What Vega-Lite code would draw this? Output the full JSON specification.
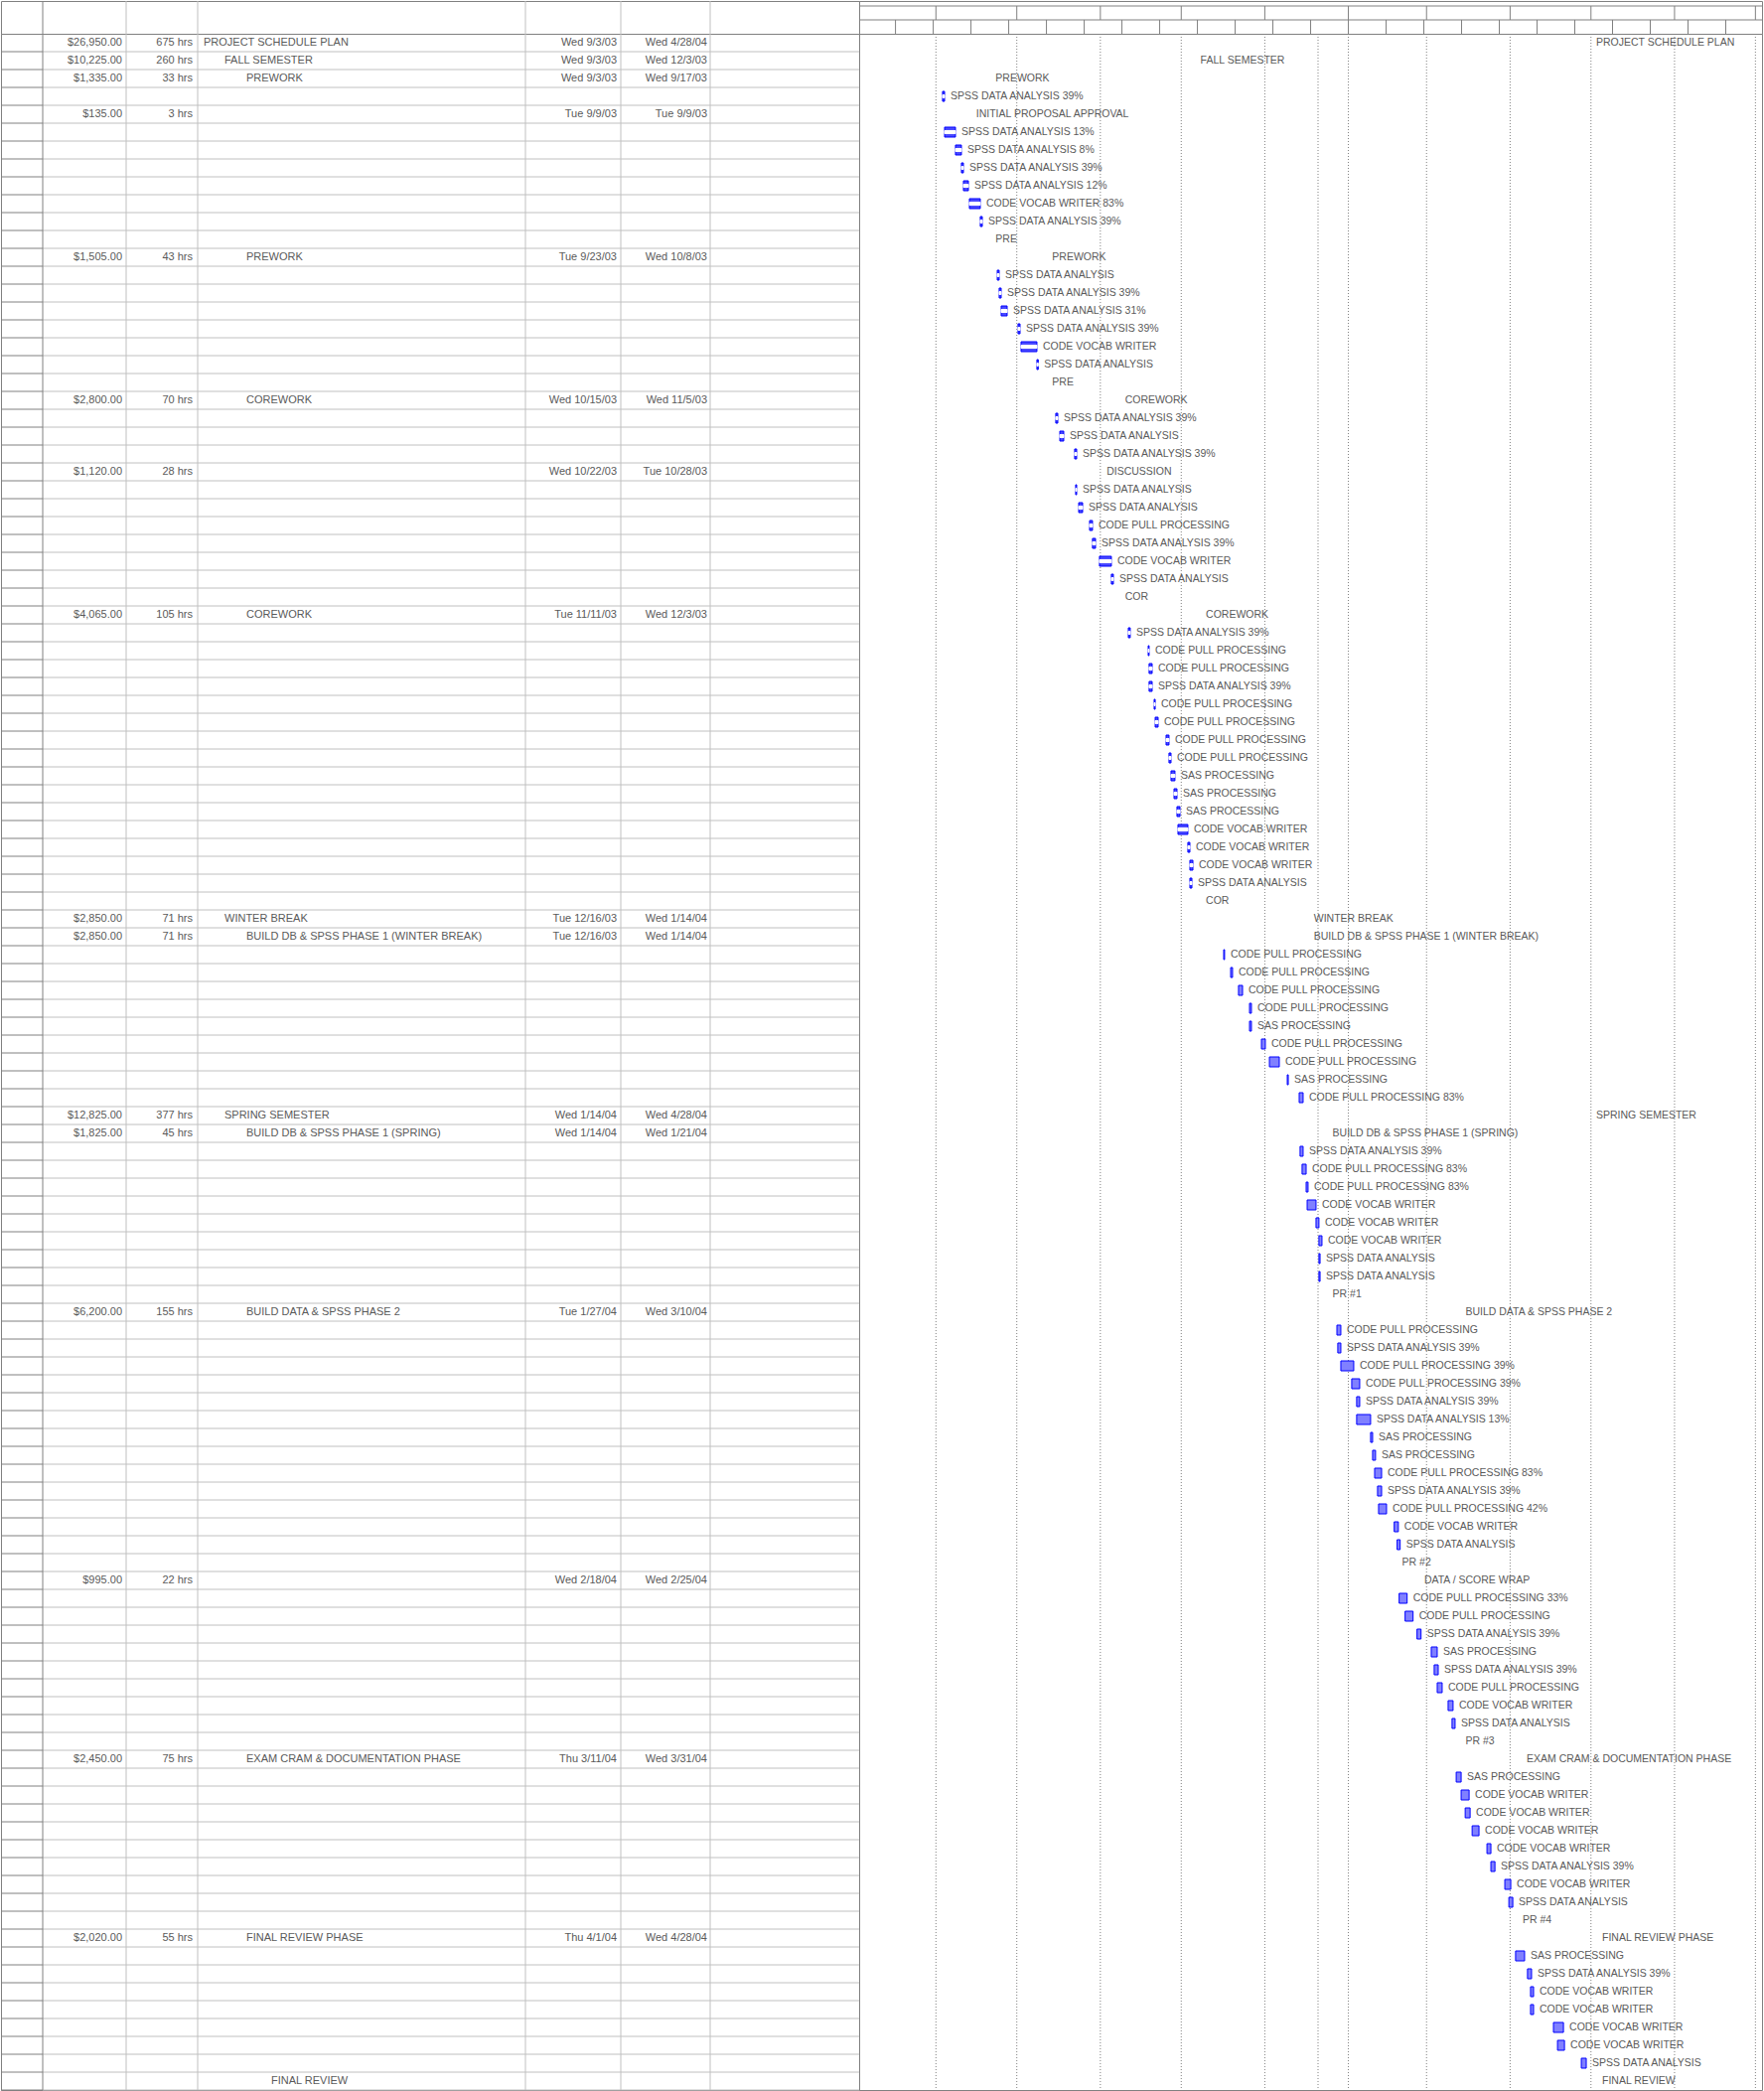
{
  "$schema": "https://vega.github.io/schema/vega-lite/v6.json",
  "padding": {"left": 0, "top": 0, "right": 2, "bottom": 0},
  "background": "white",
  "config": {
    "view": {"stroke": "#808080", "strokeWidth": 1},
    "text": {"font": "Liberation Sans", "fontSize": 11, "fill": "#5a5a5a"}
  },
  "datasets": {
    "months": [
      {"m": "2003-09-01T00:00"}, {"m": "2003-10-01T00:00"}, {"m": "2003-11-01T00:00"},
      {"m": "2003-12-01T00:00"}, {"m": "2004-01-01T00:00"}, {"m": "2004-02-01T00:00"}, {"m": "2004-03-01T00:00"},
      {"m": "2004-04-01T00:00"}, {"m": "2004-05-01T00:00"}, {"m": "2004-06-01T00:00"}, {"m": "2004-07-01T00:00"}
    ],
    "weeks": [
      {"w": "2003-08-17T00:00"}, {"w": "2003-08-31T00:00"}, {"w": "2003-09-14T00:00"},
      {"w": "2003-09-28T00:00"}, {"w": "2003-10-12T00:00"}, {"w": "2003-10-26T00:00"}, {"w": "2003-11-09T00:00"},
      {"w": "2003-11-23T00:00"}, {"w": "2003-12-07T00:00"}, {"w": "2003-12-21T00:00"}, {"w": "2004-01-04T00:00"},
      {"w": "2004-01-18T00:00"}, {"w": "2004-02-01T00:00"}, {"w": "2004-02-15T00:00"}, {"w": "2004-02-29T00:00"},
      {"w": "2004-03-14T00:00"}, {"w": "2004-03-28T00:00"}, {"w": "2004-04-11T00:00"}, {"w": "2004-04-25T00:00"},
      {"w": "2004-05-09T00:00"}, {"w": "2004-05-23T00:00"}, {"w": "2004-06-06T00:00"}, {"w": "2004-06-20T00:00"}
    ],
    "rows": [
      {"r":1,"lv":0,"nm":"PROJECT SCHEDULE PLAN","c":"$26,950.00","w":"675 hrs","s":"Wed 9/3/03","f":"Wed 4/28/04","k":"s","b":"2004-04-28T12:00","t":"PROJECT SCHEDULE PLAN"},
      {"r":2,"lv":1,"nm":"FALL SEMESTER","c":"$10,225.00","w":"260 hrs","s":"Wed 9/3/03","f":"Wed 12/3/03","k":"s","b":"2003-12-03T17:00","t":"FALL SEMESTER"},
      {"r":3,"lv":2,"nm":"PREWORK","c":"$1,335.00","w":"33 hrs","s":"Wed 9/3/03","f":"Wed 9/17/03","k":"s","b":"2003-09-18T17:00","t":"PREWORK"},
      {"r":4,"k":"t","a":"2003-09-03T11:00","b":"2003-09-04T05:00","t":"SPSS DATA ANALYSIS 39%"},
      {"r":5,"lv":3,"nm":"","c":"$135.00","w":"3 hrs","s":"Tue 9/9/03","f":"Tue 9/9/03","k":"s","b":"2003-09-11T12:00","t":"INITIAL PROPOSAL APPROVAL"},
      {"r":6,"k":"t","a":"2003-09-04T05:00","b":"2003-09-08T06:00","t":"SPSS DATA ANALYSIS 13%"},
      {"r":7,"k":"t","a":"2003-09-08T06:00","b":"2003-09-10T11:00","t":"SPSS DATA ANALYSIS 8%"},
      {"r":8,"k":"t","a":"2003-09-10T11:00","b":"2003-09-11T05:00","t":"SPSS DATA ANALYSIS 39%"},
      {"r":9,"k":"t","a":"2003-09-11T05:00","b":"2003-09-13T01:00","t":"SPSS DATA ANALYSIS 12%"},
      {"r":10,"k":"t","a":"2003-09-13T10:00","b":"2003-09-17T11:00","t":"CODE VOCAB WRITER 83%"},
      {"r":11,"k":"t","a":"2003-09-17T11:00","b":"2003-09-18T05:00","t":"SPSS DATA ANALYSIS 39%"},
      {"r":12,"k":"m","b":"2003-09-18T17:00","t":"PRE"},
      {"r":13,"lv":2,"nm":"PREWORK","c":"$1,505.00","w":"43 hrs","s":"Tue 9/23/03","f":"Wed 10/8/03","k":"s","b":"2003-10-09T17:00","t":"PREWORK"},
      {"r":14,"k":"t","a":"2003-09-23T18:00","b":"2003-09-24T11:00","t":"SPSS DATA ANALYSIS"},
      {"r":15,"k":"t","a":"2003-09-24T11:00","b":"2003-09-25T05:00","t":"SPSS DATA ANALYSIS 39%"},
      {"r":16,"k":"t","a":"2003-09-25T05:00","b":"2003-09-27T10:00","t":"SPSS DATA ANALYSIS 31%"},
      {"r":17,"k":"t","a":"2003-10-01T11:00","b":"2003-10-02T05:00","t":"SPSS DATA ANALYSIS 39%"},
      {"r":18,"k":"t","a":"2003-10-02T14:00","b":"2003-10-08T11:00","t":"CODE VOCAB WRITER"},
      {"r":19,"k":"t","a":"2003-10-08T11:00","b":"2003-10-08T23:00","t":"SPSS DATA ANALYSIS"},
      {"r":20,"k":"m","b":"2003-10-09T17:00","t":"PRE"},
      {"r":21,"lv":2,"nm":"COREWORK","c":"$2,800.00","w":"70 hrs","s":"Wed 10/15/03","f":"Wed 11/5/03","k":"s","b":"2003-11-05T17:00","t":"COREWORK"},
      {"r":22,"k":"t","a":"2003-10-15T11:00","b":"2003-10-16T05:00","t":"SPSS DATA ANALYSIS 39%"},
      {"r":23,"k":"t","a":"2003-10-16T23:00","b":"2003-10-18T10:00","t":"SPSS DATA ANALYSIS"},
      {"r":24,"k":"t","a":"2003-10-22T11:00","b":"2003-10-23T05:00","t":"SPSS DATA ANALYSIS 39%"},
      {"r":25,"lv":3,"nm":"","c":"$1,120.00","w":"28 hrs","s":"Wed 10/22/03","f":"Tue 10/28/03","k":"s","b":"2003-10-29T22:00","t":"DISCUSSION"},
      {"r":26,"k":"t","a":"2003-10-22T20:00","b":"2003-10-23T05:00","t":"SPSS DATA ANALYSIS"},
      {"r":27,"k":"t","a":"2003-10-23T23:00","b":"2003-10-25T10:00","t":"SPSS DATA ANALYSIS"},
      {"r":28,"k":"t","a":"2003-10-28T00:00","b":"2003-10-29T02:00","t":"CODE PULL PROCESSING"},
      {"r":29,"k":"t","a":"2003-10-29T02:00","b":"2003-10-30T05:00","t":"SPSS DATA ANALYSIS 39%"},
      {"r":30,"k":"t","a":"2003-10-31T16:00","b":"2003-11-05T02:00","t":"CODE VOCAB WRITER"},
      {"r":31,"k":"t","a":"2003-11-05T02:00","b":"2003-11-05T20:00","t":"SPSS DATA ANALYSIS"},
      {"r":32,"k":"m","b":"2003-11-05T17:00","t":"COR"},
      {"r":33,"lv":2,"nm":"COREWORK","c":"$4,065.00","w":"105 hrs","s":"Tue 11/11/03","f":"Wed 12/3/03","k":"s","b":"2003-12-05T17:00","t":"COREWORK"},
      {"r":34,"k":"t","a":"2003-11-11T09:00","b":"2003-11-12T02:00","t":"SPSS DATA ANALYSIS 39%"},
      {"r":35,"k":"t","a":"2003-11-18T18:00","b":"2003-11-19T02:00","t":"CODE PULL PROCESSING"},
      {"r":36,"k":"t","a":"2003-11-19T02:00","b":"2003-11-20T05:00","t":"CODE PULL PROCESSING"},
      {"r":37,"k":"t","a":"2003-11-19T02:00","b":"2003-11-20T05:00","t":"SPSS DATA ANALYSIS 39%"},
      {"r":38,"k":"t","a":"2003-11-20T23:00","b":"2003-11-21T08:00","t":"CODE PULL PROCESSING"},
      {"r":39,"k":"t","a":"2003-11-21T08:00","b":"2003-11-22T10:00","t":"CODE PULL PROCESSING"},
      {"r":40,"k":"t","a":"2003-11-25T09:00","b":"2003-11-26T11:00","t":"CODE PULL PROCESSING"},
      {"r":41,"k":"t","a":"2003-11-26T11:00","b":"2003-11-27T05:00","t":"CODE PULL PROCESSING"},
      {"r":42,"k":"t","a":"2003-11-27T05:00","b":"2003-11-28T16:00","t":"SAS PROCESSING"},
      {"r":43,"k":"t","a":"2003-11-28T08:00","b":"2003-11-29T10:00","t":"SAS PROCESSING"},
      {"r":44,"k":"t","a":"2003-11-29T10:00","b":"2003-11-30T13:00","t":"SAS PROCESSING"},
      {"r":45,"k":"t","a":"2003-11-29T19:00","b":"2003-12-03T11:00","t":"CODE VOCAB WRITER"},
      {"r":46,"k":"t","a":"2003-12-03T11:00","b":"2003-12-04T05:00","t":"CODE VOCAB WRITER"},
      {"r":47,"k":"t","a":"2003-12-04T05:00","b":"2003-12-05T08:00","t":"CODE VOCAB WRITER"},
      {"r":48,"k":"t","a":"2003-12-04T05:00","b":"2003-12-04T23:00","t":"SPSS DATA ANALYSIS"},
      {"r":49,"k":"m","b":"2003-12-05T17:00","t":"COR"},
      {"r":50,"lv":1,"nm":"WINTER BREAK","c":"$2,850.00","w":"71 hrs","s":"Tue 12/16/03","f":"Wed 1/14/04","k":"s","b":"2004-01-14T18:00","t":"WINTER BREAK"},
      {"r":51,"lv":2,"nm":"BUILD DB & SPSS PHASE 1 (WINTER BREAK)","c":"$2,850.00","w":"71 hrs","s":"Tue 12/16/03","f":"Wed 1/14/04","k":"s","b":"2004-01-14T18:00","t":"BUILD DB & SPSS PHASE 1 (WINTER BREAK)"},
      {"r":52,"k":"t","a":"2003-12-16T18:00","b":"2003-12-17T02:00","t":"CODE PULL PROCESSING"},
      {"r":53,"k":"t","a":"2003-12-19T08:00","b":"2003-12-20T01:00","t":"CODE PULL PROCESSING"},
      {"r":54,"k":"t","a":"2003-12-22T06:00","b":"2003-12-23T18:00","t":"CODE PULL PROCESSING"},
      {"r":55,"k":"t","a":"2003-12-26T08:00","b":"2003-12-27T01:00","t":"CODE PULL PROCESSING"},
      {"r":56,"k":"t","a":"2003-12-26T08:00","b":"2003-12-27T01:00","t":"SAS PROCESSING"},
      {"r":57,"k":"t","a":"2003-12-30T18:00","b":"2004-01-01T05:00","t":"CODE PULL PROCESSING"},
      {"r":58,"k":"t","a":"2004-01-02T17:00","b":"2004-01-06T09:00","t":"CODE PULL PROCESSING"},
      {"r":59,"k":"t","a":"2004-01-09T08:00","b":"2004-01-09T17:00","t":"SAS PROCESSING"},
      {"r":60,"k":"t","a":"2004-01-13T18:00","b":"2004-01-15T05:00","t":"CODE PULL PROCESSING 83%"},
      {"r":61,"lv":1,"nm":"SPRING SEMESTER","c":"$12,825.00","w":"377 hrs","s":"Wed 1/14/04","f":"Wed 4/28/04","k":"s","b":"2004-04-28T12:00","t":"SPRING SEMESTER"},
      {"r":62,"lv":2,"nm":"BUILD DB & SPSS PHASE 1 (SPRING)","c":"$1,825.00","w":"45 hrs","s":"Wed 1/14/04","f":"Wed 1/21/04","k":"s","b":"2004-01-21T17:00","t":"BUILD DB & SPSS PHASE 1 (SPRING)"},
      {"r":63,"k":"t","a":"2004-01-14T02:00","b":"2004-01-15T05:00","t":"SPSS DATA ANALYSIS 39%"},
      {"r":64,"k":"t","a":"2004-01-14T20:00","b":"2004-01-16T08:00","t":"CODE PULL PROCESSING 83%"},
      {"r":65,"k":"t","a":"2004-01-16T08:00","b":"2004-01-17T01:00","t":"CODE PULL PROCESSING 83%"},
      {"r":66,"k":"t","a":"2004-01-16T17:00","b":"2004-01-20T00:00","t":"CODE VOCAB WRITER"},
      {"r":67,"k":"t","a":"2004-01-20T00:00","b":"2004-01-21T02:00","t":"CODE VOCAB WRITER"},
      {"r":68,"k":"t","a":"2004-01-21T02:00","b":"2004-01-22T05:00","t":"CODE VOCAB WRITER"},
      {"r":69,"k":"t","a":"2004-01-21T02:00","b":"2004-01-21T12:00","t":"SPSS DATA ANALYSIS"},
      {"r":70,"k":"t","a":"2004-01-21T02:00","b":"2004-01-21T12:00","t":"SPSS DATA ANALYSIS"},
      {"r":71,"k":"m","b":"2004-01-21T17:00","t":"PR #1"},
      {"r":72,"lv":2,"nm":"BUILD DATA & SPSS PHASE 2","c":"$6,200.00","w":"155 hrs","s":"Tue 1/27/04","f":"Wed 3/10/04","k":"s","b":"2004-03-11T00:00","t":"BUILD DATA & SPSS PHASE 2"},
      {"r":73,"k":"t","a":"2004-01-27T18:00","b":"2004-01-29T05:00","t":"CODE PULL PROCESSING"},
      {"r":74,"k":"t","a":"2004-01-28T02:00","b":"2004-01-29T05:00","t":"SPSS DATA ANALYSIS 39%"},
      {"r":75,"k":"t","a":"2004-01-29T05:00","b":"2004-02-03T00:00","t":"CODE PULL PROCESSING 39%"},
      {"r":76,"k":"t","a":"2004-02-02T06:00","b":"2004-02-05T05:00","t":"CODE PULL PROCESSING 39%"},
      {"r":77,"k":"t","a":"2004-02-04T02:00","b":"2004-02-05T05:00","t":"SPSS DATA ANALYSIS 39%"},
      {"r":78,"k":"t","a":"2004-02-04T02:00","b":"2004-02-09T06:00","t":"SPSS DATA ANALYSIS 13%"},
      {"r":79,"k":"t","a":"2004-02-09T06:00","b":"2004-02-10T00:00","t":"SAS PROCESSING"},
      {"r":80,"k":"t","a":"2004-02-10T00:00","b":"2004-02-11T02:00","t":"SAS PROCESSING"},
      {"r":81,"k":"t","a":"2004-02-10T18:00","b":"2004-02-13T08:00","t":"CODE PULL PROCESSING 83%"},
      {"r":82,"k":"t","a":"2004-02-11T20:00","b":"2004-02-13T08:00","t":"SPSS DATA ANALYSIS 39%"},
      {"r":83,"k":"t","a":"2004-02-12T05:00","b":"2004-02-15T04:00","t":"CODE PULL PROCESSING 42%"},
      {"r":84,"k":"t","a":"2004-02-18T00:00","b":"2004-02-19T13:00","t":"CODE VOCAB WRITER"},
      {"r":85,"k":"t","a":"2004-02-19T02:00","b":"2004-02-20T05:00","t":"SPSS DATA ANALYSIS"},
      {"r":86,"k":"m","b":"2004-02-16T12:00","t":"PR #2"},
      {"r":87,"lv":3,"nm":"","c":"$995.00","w":"22 hrs","s":"Wed 2/18/04","f":"Wed 2/25/04","k":"s","b":"2004-02-24T17:00","t":"DATA / SCORE WRAP"},
      {"r":88,"k":"t","a":"2004-02-19T20:00","b":"2004-02-22T19:00","t":"CODE PULL PROCESSING 33%"},
      {"r":89,"k":"t","a":"2004-02-22T01:00","b":"2004-02-25T00:00","t":"CODE PULL PROCESSING"},
      {"r":90,"k":"t","a":"2004-02-26T11:00","b":"2004-02-27T23:00","t":"SPSS DATA ANALYSIS 39%"},
      {"r":91,"k":"t","a":"2004-03-02T18:00","b":"2004-03-04T23:00","t":"SAS PROCESSING"},
      {"r":92,"k":"t","a":"2004-03-03T20:00","b":"2004-03-05T08:00","t":"SPSS DATA ANALYSIS 39%"},
      {"r":93,"k":"t","a":"2004-03-04T23:00","b":"2004-03-06T19:00","t":"CODE PULL PROCESSING"},
      {"r":94,"k":"t","a":"2004-03-09T00:00","b":"2004-03-10T20:00","t":"CODE VOCAB WRITER"},
      {"r":95,"k":"t","a":"2004-03-10T11:00","b":"2004-03-11T14:00","t":"SPSS DATA ANALYSIS"},
      {"r":96,"k":"m","b":"2004-03-11T00:00","t":"PR #3"},
      {"r":97,"lv":2,"nm":"EXAM CRAM & DOCUMENTATION PHASE","c":"$2,450.00","w":"75 hrs","s":"Thu 3/11/04","f":"Wed 3/31/04","k":"s","b":"2004-04-02T17:00","t":"EXAM CRAM & DOCUMENTATION PHASE"},
      {"r":98,"k":"t","a":"2004-03-12T00:00","b":"2004-03-13T20:00","t":"SAS PROCESSING"},
      {"r":99,"k":"t","a":"2004-03-13T20:00","b":"2004-03-16T19:00","t":"CODE VOCAB WRITER"},
      {"r":100,"k":"t","a":"2004-03-15T08:00","b":"2004-03-17T04:00","t":"CODE VOCAB WRITER"},
      {"r":101,"k":"t","a":"2004-03-17T22:00","b":"2004-03-20T11:00","t":"CODE VOCAB WRITER"},
      {"r":102,"k":"t","a":"2004-03-23T10:00","b":"2004-03-24T21:00","t":"CODE VOCAB WRITER"},
      {"r":103,"k":"t","a":"2004-03-24T21:00","b":"2004-03-26T09:00","t":"SPSS DATA ANALYSIS 39%"},
      {"r":104,"k":"t","a":"2004-03-30T01:00","b":"2004-04-01T06:00","t":"CODE VOCAB WRITER"},
      {"r":105,"k":"t","a":"2004-03-31T13:00","b":"2004-04-02T00:00","t":"SPSS DATA ANALYSIS"},
      {"r":106,"k":"m","b":"2004-04-01T05:00","t":"PR #4"},
      {"r":107,"lv":2,"nm":"FINAL REVIEW PHASE","c":"$2,020.00","w":"55 hrs","s":"Thu 4/1/04","f":"Wed 4/28/04","k":"s","b":"2004-04-30T17:00","t":"FINAL REVIEW PHASE"},
      {"r":108,"k":"t","a":"2004-04-03T01:00","b":"2004-04-06T09:00","t":"SAS PROCESSING"},
      {"r":109,"k":"t","a":"2004-04-07T11:00","b":"2004-04-08T23:00","t":"SPSS DATA ANALYSIS 39%"},
      {"r":110,"k":"t","a":"2004-04-08T14:00","b":"2004-04-09T17:00","t":"CODE VOCAB WRITER"},
      {"r":111,"k":"t","a":"2004-04-08T14:00","b":"2004-04-09T17:00","t":"CODE VOCAB WRITER"},
      {"r":112,"k":"t","a":"2004-04-17T02:00","b":"2004-04-20T19:00","t":"CODE VOCAB WRITER"},
      {"r":113,"k":"t","a":"2004-04-18T14:00","b":"2004-04-21T04:00","t":"CODE VOCAB WRITER"},
      {"r":114,"k":"t","a":"2004-04-27T10:00","b":"2004-04-29T06:00","t":"SPSS DATA ANALYSIS"},
      {"r":115,"lv":3,"nm":"FINAL REVIEW","k":"m","b":"2004-04-30T17:00","t":"FINAL REVIEW"}
    ]
  },
  "columns": 2,
  "spacing": 0,
  "bounds": "flush",
  "resolve": {"scale": {"x": "independent", "y": "independent"}},
  "concat": [
    {
      "width": 864,
      "height": 33,
      "data": {"values": [{}]},
      "layer": [
        {"mark": {"type": "rule", "stroke": "#808080"}, "encoding": {"x": {"datum": 42, "type": "quantitative", "scale": {"domain": [0, 864], "nice": false, "zero": false}, "axis": null}}},
        {"mark": {"type": "rule", "stroke": "#c0c0c0"}, "encoding": {"x": {"datum": 126, "type": "quantitative", "scale": {"domain": [0, 864], "nice": false, "zero": false}, "axis": null}}},
        {"mark": {"type": "rule", "stroke": "#c0c0c0"}, "encoding": {"x": {"datum": 198, "type": "quantitative", "scale": {"domain": [0, 864], "nice": false, "zero": false}, "axis": null}}},
        {"mark": {"type": "rule", "stroke": "#c0c0c0"}, "encoding": {"x": {"datum": 528, "type": "quantitative", "scale": {"domain": [0, 864], "nice": false, "zero": false}, "axis": null}}},
        {"mark": {"type": "rule", "stroke": "#c0c0c0"}, "encoding": {"x": {"datum": 624, "type": "quantitative", "scale": {"domain": [0, 864], "nice": false, "zero": false}, "axis": null}}},
        {"mark": {"type": "rule", "stroke": "#c0c0c0"}, "encoding": {"x": {"datum": 714, "type": "quantitative", "scale": {"domain": [0, 864], "nice": false, "zero": false}, "axis": null}}}
      ]
    },
    {
      "width": 909,
      "height": 33,
      "layer": [
        {"data": {"values": [{}]}, "mark": {"type": "rule", "stroke": "#808080"},
         "encoding": {"y": {"datum": 5, "type": "quantitative", "scale": {"domain": [33, 0], "nice": false, "zero": false}, "axis": null}}},
        {"data": {"values": [{}]}, "mark": {"type": "rule", "stroke": "#808080"},
         "encoding": {"y": {"datum": 19, "type": "quantitative", "scale": {"domain": [33, 0], "nice": false, "zero": false}, "axis": null}}},
        {"data": {"name": "months"}, "mark": {"type": "rule", "stroke": "#808080"},
         "encoding": {
           "x": {"field": "m", "type": "temporal", "scale": {"domain": [{"year": 2003, "month": 8, "date": 3, "hours": 12, "minutes": 30}, {"year": 2004, "month": 7, "date": 3, "hours": 10, "minutes": 48}], "nice": false}, "axis": null},
           "y": {"datum": 5, "type": "quantitative", "scale": {"domain": [33, 0], "nice": false, "zero": false}, "axis": null},
           "y2": {"datum": 19}}},
        {"data": {"name": "weeks"}, "mark": {"type": "rule", "stroke": "#808080"},
         "encoding": {
           "x": {"field": "w", "type": "temporal", "scale": {"domain": [{"year": 2003, "month": 8, "date": 3, "hours": 12, "minutes": 30}, {"year": 2004, "month": 7, "date": 3, "hours": 10, "minutes": 48}], "nice": false}, "axis": null},
           "y": {"datum": 19, "type": "quantitative", "scale": {"domain": [33, 0], "nice": false, "zero": false}, "axis": null},
           "y2": {"datum": 33}}}
      ]
    },
    {
      "width": 864,
      "height": 2070,
      "data": {"name": "rows"},
      "layer": [
        {"mark": {"type": "rule", "stroke": "#c0c0c0"}, "encoding": {
          "y": {"field": "r", "type": "ordinal", "bandPosition": 1, "scale": {"type": "band", "paddingInner": 0, "paddingOuter": 0}, "axis": null},
          "x": {"datum": 42, "type": "quantitative", "scale": {"domain": [0, 864], "nice": false, "zero": false}, "axis": null},
          "x2": {"datum": 864}}},
        {"mark": {"type": "rule", "stroke": "#808080"}, "encoding": {
          "y": {"field": "r", "type": "ordinal", "bandPosition": 1, "scale": {"type": "band", "paddingInner": 0, "paddingOuter": 0}, "axis": null},
          "x": {"datum": 0, "type": "quantitative", "scale": {"domain": [0, 864], "nice": false, "zero": false}, "axis": null},
          "x2": {"datum": 42}}},
        {"data": {"values": [{}]}, "mark": {"type": "rule", "stroke": "#808080"}, "encoding": {"x": {"datum": 42, "type": "quantitative", "scale": {"domain": [0, 864], "nice": false, "zero": false}, "axis": null}}},
        {"data": {"values": [{}]}, "mark": {"type": "rule", "stroke": "#c0c0c0"}, "encoding": {"x": {"datum": 126, "type": "quantitative", "scale": {"domain": [0, 864], "nice": false, "zero": false}, "axis": null}}},
        {"data": {"values": [{}]}, "mark": {"type": "rule", "stroke": "#c0c0c0"}, "encoding": {"x": {"datum": 198, "type": "quantitative", "scale": {"domain": [0, 864], "nice": false, "zero": false}, "axis": null}}},
        {"data": {"values": [{}]}, "mark": {"type": "rule", "stroke": "#c0c0c0"}, "encoding": {"x": {"datum": 528, "type": "quantitative", "scale": {"domain": [0, 864], "nice": false, "zero": false}, "axis": null}}},
        {"data": {"values": [{}]}, "mark": {"type": "rule", "stroke": "#c0c0c0"}, "encoding": {"x": {"datum": 624, "type": "quantitative", "scale": {"domain": [0, 864], "nice": false, "zero": false}, "axis": null}}},
        {"data": {"values": [{}]}, "mark": {"type": "rule", "stroke": "#c0c0c0"}, "encoding": {"x": {"datum": 714, "type": "quantitative", "scale": {"domain": [0, 864], "nice": false, "zero": false}, "axis": null}}},
        {"transform": [{"filter": "datum.c"}], "mark": {"type": "text", "align": "right", "baseline": "middle"}, "encoding": {
          "y": {"field": "r", "type": "ordinal", "scale": {"type": "band", "paddingInner": 0, "paddingOuter": 0}, "axis": null},
          "x": {"datum": 122, "type": "quantitative", "scale": {"domain": [0, 864], "nice": false, "zero": false}, "axis": null},
          "text": {"field": "c"}}},
        {"transform": [{"filter": "datum.w"}], "mark": {"type": "text", "align": "right", "baseline": "middle"}, "encoding": {
          "y": {"field": "r", "type": "ordinal", "scale": {"type": "band", "paddingInner": 0, "paddingOuter": 0}, "axis": null},
          "x": {"datum": 193, "type": "quantitative", "scale": {"domain": [0, 864], "nice": false, "zero": false}, "axis": null},
          "text": {"field": "w"}}},
        {"transform": [{"filter": "datum.s"}], "mark": {"type": "text", "align": "right", "baseline": "middle"}, "encoding": {
          "y": {"field": "r", "type": "ordinal", "scale": {"type": "band", "paddingInner": 0, "paddingOuter": 0}, "axis": null},
          "x": {"datum": 620, "type": "quantitative", "scale": {"domain": [0, 864], "nice": false, "zero": false}, "axis": null},
          "text": {"field": "s"}}},
        {"transform": [{"filter": "datum.f"}], "mark": {"type": "text", "align": "right", "baseline": "middle"}, "encoding": {
          "y": {"field": "r", "type": "ordinal", "scale": {"type": "band", "paddingInner": 0, "paddingOuter": 0}, "axis": null},
          "x": {"datum": 711, "type": "quantitative", "scale": {"domain": [0, 864], "nice": false, "zero": false}, "axis": null},
          "text": {"field": "f"}}},
        {"transform": [{"filter": "datum.nm && datum.lv == 0"}], "mark": {"type": "text", "align": "left", "baseline": "middle"}, "encoding": {
          "y": {"field": "r", "type": "ordinal", "scale": {"type": "band", "paddingInner": 0, "paddingOuter": 0}, "axis": null},
          "x": {"datum": 204, "type": "quantitative", "scale": {"domain": [0, 864], "nice": false, "zero": false}, "axis": null},
          "text": {"field": "nm"}}},
        {"transform": [{"filter": "datum.nm && datum.lv == 1"}], "mark": {"type": "text", "align": "left", "baseline": "middle"}, "encoding": {
          "y": {"field": "r", "type": "ordinal", "scale": {"type": "band", "paddingInner": 0, "paddingOuter": 0}, "axis": null},
          "x": {"datum": 225, "type": "quantitative", "scale": {"domain": [0, 864], "nice": false, "zero": false}, "axis": null},
          "text": {"field": "nm"}}},
        {"transform": [{"filter": "datum.nm && datum.lv == 2"}], "mark": {"type": "text", "align": "left", "baseline": "middle"}, "encoding": {
          "y": {"field": "r", "type": "ordinal", "scale": {"type": "band", "paddingInner": 0, "paddingOuter": 0}, "axis": null},
          "x": {"datum": 247, "type": "quantitative", "scale": {"domain": [0, 864], "nice": false, "zero": false}, "axis": null},
          "text": {"field": "nm"}}},
        {"transform": [{"filter": "datum.nm && datum.lv == 3"}], "mark": {"type": "text", "align": "left", "baseline": "middle"}, "encoding": {
          "y": {"field": "r", "type": "ordinal", "scale": {"type": "band", "paddingInner": 0, "paddingOuter": 0}, "axis": null},
          "x": {"datum": 272, "type": "quantitative", "scale": {"domain": [0, 864], "nice": false, "zero": false}, "axis": null},
          "text": {"field": "nm"}}}
      ]
    },
    {
      "width": 909,
      "height": 2070,
      "data": {"name": "rows"},
      "layer": [
        {"data": {"name": "months"}, "mark": {"type": "rule", "stroke": "#808080", "strokeDash": [1, 2]},
         "encoding": {"x": {"field": "m", "type": "temporal", "scale": {"domain": [{"year": 2003, "month": 8, "date": 3, "hours": 12, "minutes": 30}, {"year": 2004, "month": 7, "date": 3, "hours": 10, "minutes": 48}], "nice": false}, "axis": null}}},
        {"data": {"values": [{}]}, "mark": {"type": "rule", "stroke": "#808080", "strokeDash": [1, 2]},
         "encoding": {"x": {"datum": {"year": 2004, "month": 1, "date": 20, "hours": 18}, "type": "temporal", "scale": {"domain": [{"year": 2003, "month": 8, "date": 3, "hours": 12, "minutes": 30}, {"year": 2004, "month": 7, "date": 3, "hours": 10, "minutes": 48}], "nice": false}, "axis": null}}},
        {"transform": [{"filter": "datum.k == 't'"}],
         "mark": {"type": "bar", "height": 10, "stroke": "#0000ff", "strokeWidth": 1},
         "encoding": {
           "x": {"field": "a", "type": "temporal", "scale": {"domain": [{"year": 2003, "month": 8, "date": 3, "hours": 12, "minutes": 30}, {"year": 2004, "month": 7, "date": 3, "hours": 10, "minutes": 48}], "nice": false}, "axis": null},
           "x2": {"field": "b"},
           "y": {"field": "r", "type": "ordinal", "scale": {"type": "band", "paddingInner": 0, "paddingOuter": 0}, "axis": null},
           "fill": {"condition": {"test": "datum.r < 50", "value": "#4a4aff"}, "value": "#8080ff"}
         }},
        {"transform": [{"filter": "datum.k == 't' && datum.r < 50"}],
         "mark": {"type": "bar", "height": 3, "fill": "white", "stroke": "white", "strokeWidth": 1},
         "encoding": {
           "x": {"field": "a", "type": "temporal", "scale": {"domain": [{"year": 2003, "month": 8, "date": 3, "hours": 12, "minutes": 30}, {"year": 2004, "month": 7, "date": 3, "hours": 10, "minutes": 48}], "nice": false}, "axis": null},
           "x2": {"field": "b"},
           "y": {"field": "r", "type": "ordinal", "scale": {"type": "band", "paddingInner": 0, "paddingOuter": 0}, "axis": null}
         }},
        {"transform": [{"filter": "datum.k == 't'"}],
         "mark": {"type": "text", "align": "left", "baseline": "middle", "dx": 6, "fontSize": 10.5},
         "encoding": {
           "x": {"field": "b", "type": "temporal", "scale": {"domain": [{"year": 2003, "month": 8, "date": 3, "hours": 12, "minutes": 30}, {"year": 2004, "month": 7, "date": 3, "hours": 10, "minutes": 48}], "nice": false}, "axis": null},
           "y": {"field": "r", "type": "ordinal", "scale": {"type": "band", "paddingInner": 0, "paddingOuter": 0}, "axis": null},
           "text": {"field": "t"}
         }},
        {"transform": [{"filter": "datum.k != 't'"}],
         "mark": {"type": "text", "align": "left", "baseline": "middle", "dx": 12, "fontSize": 10.5},
         "encoding": {
           "x": {"field": "b", "type": "temporal", "scale": {"domain": [{"year": 2003, "month": 8, "date": 3, "hours": 12, "minutes": 30}, {"year": 2004, "month": 7, "date": 3, "hours": 10, "minutes": 48}], "nice": false}, "axis": null},
           "y": {"field": "r", "type": "ordinal", "scale": {"type": "band", "paddingInner": 0, "paddingOuter": 0}, "axis": null},
           "text": {"field": "t"}
         }}
      ]
    }
  ]
}
